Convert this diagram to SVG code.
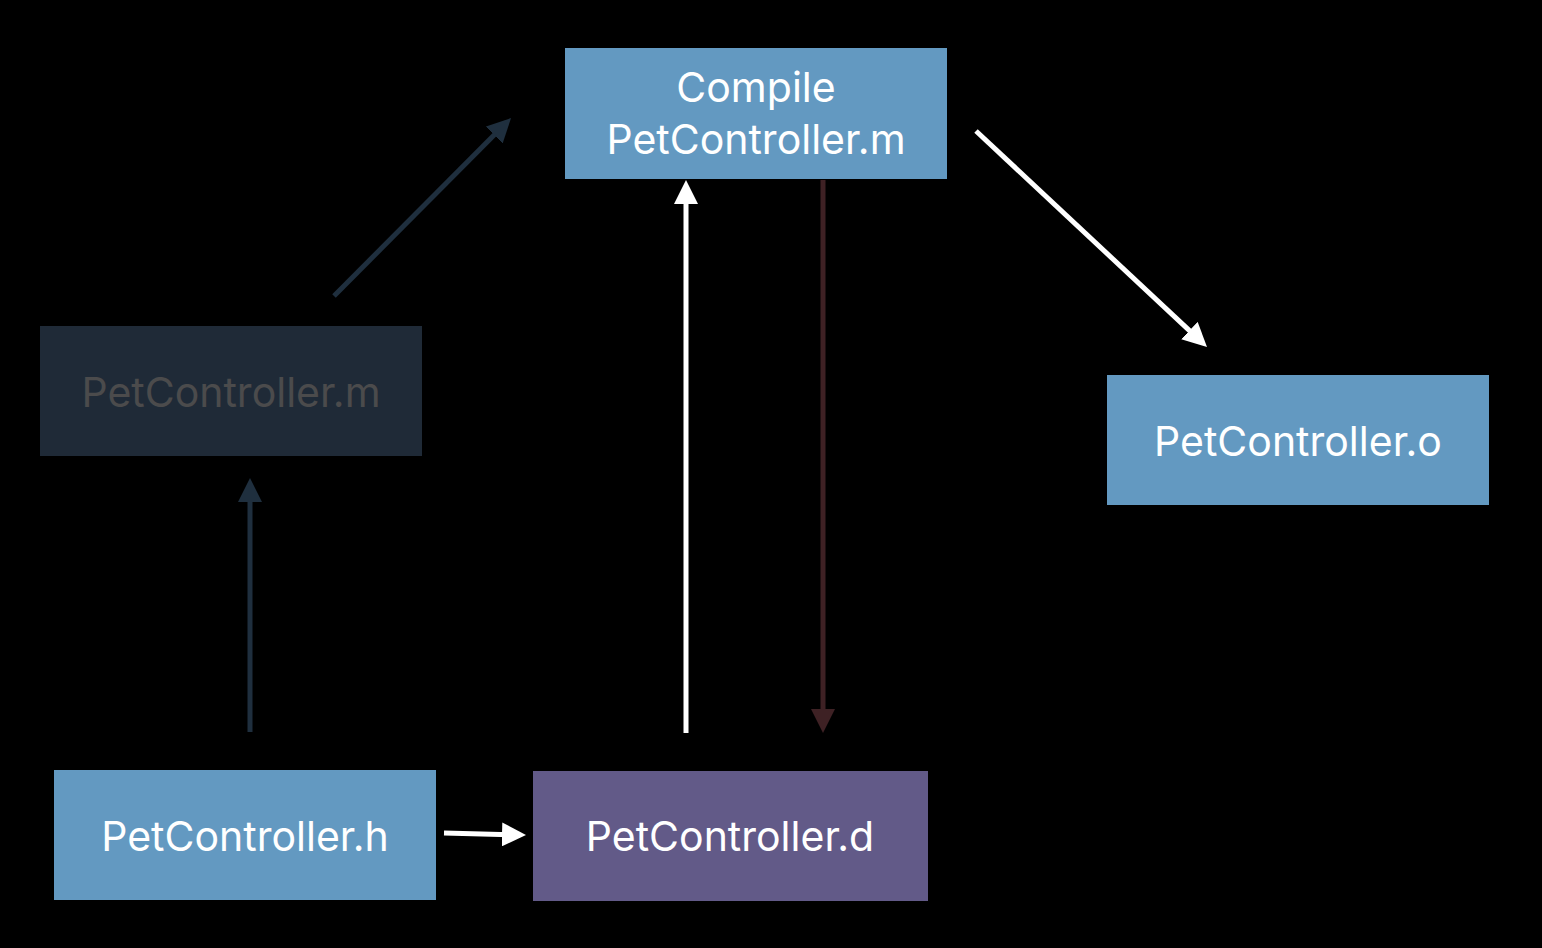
<svg xmlns="http://www.w3.org/2000/svg" width="1542" height="948" viewBox="0 0 1542 948">
<style>
.t{font-family:Inter,"Liberation Sans",sans-serif;font-size:41px;fill:#ffffff;text-anchor:middle}
.dim{fill:#4b4b4c}
.blue{fill:#6399c1}
</style>
<defs>
<marker id="aw" markerUnits="userSpaceOnUse" markerWidth="26" markerHeight="24" refX="18" refY="12" orient="auto"><path d="M0,0 L24,12 L0,24 Z" fill="#ffffff"/></marker>
<marker id="ad" markerUnits="userSpaceOnUse" markerWidth="26" markerHeight="24" refX="18" refY="12" orient="auto"><path d="M0,0 L24,12 L0,24 Z" fill="#1f2f3e"/></marker>
<marker id="ar" markerUnits="userSpaceOnUse" markerWidth="26" markerHeight="24" refX="18" refY="12" orient="auto"><path d="M0,0 L24,12 L0,24 Z" fill="#3e2124"/></marker>
</defs>
<rect width="1542" height="948" fill="#000"/>
<g id="connectors" fill="none" stroke-width="5">
<line x1="334" y1="296" x2="506.8" y2="122.3" stroke="#1f2f3e" marker-end="url(#ad)"/>
<line x1="250" y1="732" x2="250" y2="484" stroke="#1f2f3e" marker-end="url(#ad)"/>
<line x1="686" y1="733" x2="686" y2="186" stroke="#ffffff" marker-end="url(#aw)"/>
<line x1="823" y1="180" x2="823" y2="727" stroke="#3e2124" marker-end="url(#ar)"/>
<line x1="976" y1="131" x2="1202.6" y2="342.9" stroke="#ffffff" marker-end="url(#aw)"/>
<line x1="444" y1="833" x2="520" y2="834.9" stroke="#ffffff" marker-end="url(#aw)"/>
</g>
<g id="compile">
<rect class="blue" x="565" y="48" width="382" height="131"/>
<text class="t" x="756" y="102">Compile</text>
<text class="t" x="756" y="154">PetController.m</text>
</g>
<g id="source-m">
<rect x="40" y="326" width="382" height="130" fill="#1f2a37"/>
<text class="t dim" x="231" y="407">PetController.m</text>
</g>
<g id="object-o">
<rect class="blue" x="1107" y="375" width="382" height="130"/>
<text class="t" x="1298" y="456">PetController.o</text>
</g>
<g id="header-h">
<rect class="blue" x="54" y="770" width="382" height="130"/>
<text class="t" x="245" y="851">PetController.h</text>
</g>
<g id="deps-d">
<rect x="533" y="771" width="395" height="130" fill="#625a88"/>
<text class="t" x="730" y="851">PetController.d</text>
</g>
</svg>
